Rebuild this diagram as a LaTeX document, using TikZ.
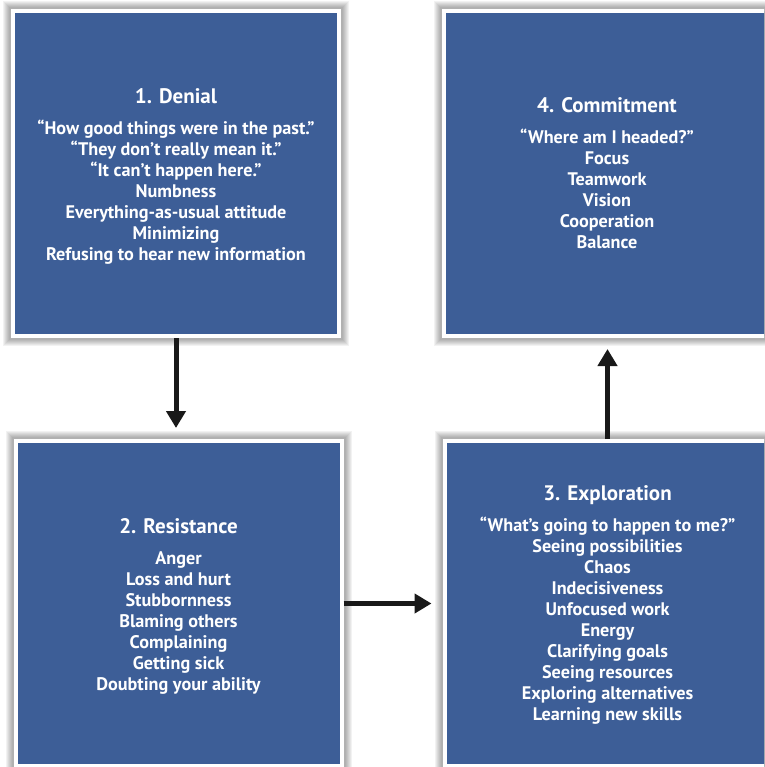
\documentclass[tikz,border=0pt]{standalone}
\usepackage{fontspec}
\setmainfont{PT Sans}
\usetikzlibrary{arrows.meta,backgrounds}
\definecolor{boxblue}{RGB}{61,94,151}
\tikzset{
  stagebox/.style={rectangle, fill=boxblue, draw=white, line width=4pt,
    minimum width=326pt, minimum height=325pt, inner sep=0pt},
  stagetext/.style={inner sep=0pt, text=white, align=center,
    font=\bfseries\fontsize{18.2}{21}\selectfont},
  flowarrow/.style={line width=5pt, black!90, -{Triangle[width=19pt,length=17pt]}, shorten >=11pt},
}
\newcommand{\stagetitle}[1]{{\fontsize{21}{24}\selectfont #1}\\[10pt]}
\begin{document}
\begin{tikzpicture}[x=1pt,y=-1pt]
\useasboundingbox (0,0) rectangle (764,767);
\clip (0,0) rectangle (764,767);
\node[stagebox] (b1) at (176,173.5) {};
\node[stagebox] (b2) at (178.5,603.5) {};
\node[stagebox] (b3) at (607.5,603.5) {};
\node[stagebox] (b4) at (607,173.5) {};
\node[stagetext] (t1) at ([yshift=-2.5pt]b1.center) {\stagetitle{1. Denial}
“How good things were in the past.”\\
“They don’t really mean it.”\\
“It can’t happen here.”\\
Numbness\\
Everything-as-usual attitude\\
Minimizing\\
Refusing to hear new information};
\node[stagetext] (t2) at ([yshift=-2.5pt]b2.center) {\stagetitle{2. Resistance}
Anger\\
Loss and hurt\\
Stubbornness\\
Blaming others\\
Complaining\\
Getting sick\\
Doubting your ability};
\node[stagetext] (t3) at ([yshift=-1.5pt]b3.center) {\stagetitle{3. Exploration}
“What’s going to happen to me?”\\
Seeing possibilities\\
Chaos\\
Indecisiveness\\
Unfocused work\\
Energy\\
Clarifying goals\\
Seeing resources\\
Exploring alternatives\\
Learning new skills};
\node[stagetext] (t4) at (b4.center) {\stagetitle{4. Commitment}
“Where am I headed?”\\
Focus\\
Teamwork\\
Vision\\
Cooperation\\
Balance};
\begin{pgfonlayer}{background}
\foreach \b in {b1,b2,b3,b4}{
  \foreach \r in {2,3,...,8}{
    \fill[black,opacity=0.05] ([shift={(-\r,\r)}]\b.south west) rectangle ([shift={(\r,-\r)}]\b.north east);
  }
}
\end{pgfonlayer}
\draw[flowarrow] (b1.south) -- (b1.south |- b2.north);
\draw[flowarrow] (b2.east) -- (b2.east -| b3.west);
\draw[flowarrow] (b3.north) -- (b3.north |- b4.south);
\end{tikzpicture}
\end{document}
